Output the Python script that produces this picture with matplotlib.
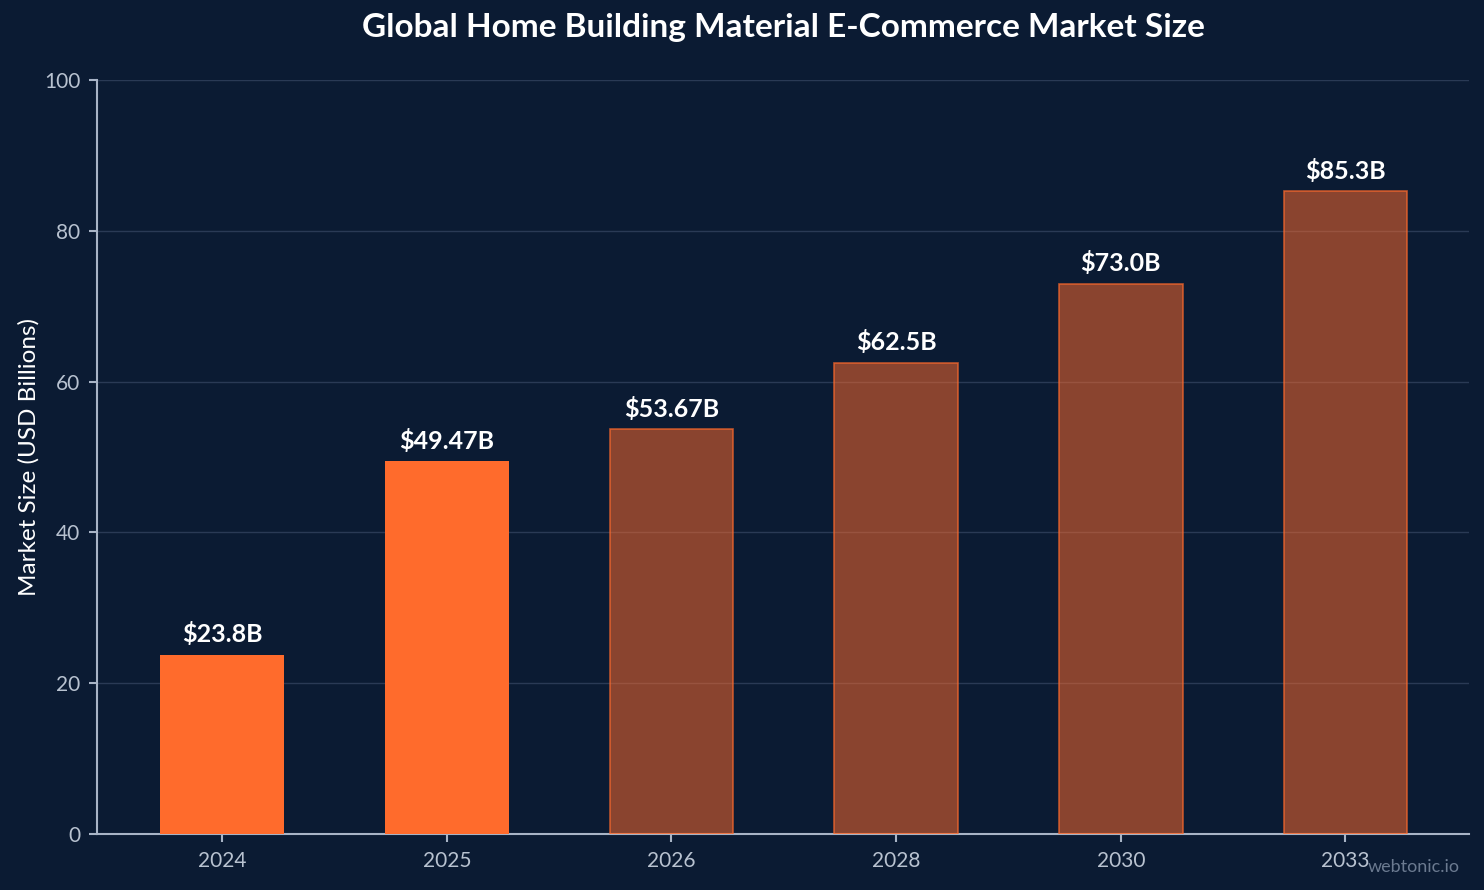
import matplotlib.pyplot as plt

plt.rcParams['font.family'] = ['Lato', 'DejaVu Sans']

years = ["2024", "2025", "2026", "2028", "2030", "2033"]
values = [23.8, 49.47, 53.67, 62.5, 73.0, 85.3]
labels = ["$23.8B", "$49.47B", "$53.67B", "$62.5B", "$73.0B", "$85.3B"]
projected = [False, False, True, True, True, True]

BG = "#0b1b33"
ORANGE = "#ff6b2c"
AXIS = "#a8b4c6"

fig = plt.figure(figsize=(14.84, 8.9), dpi=100, facecolor=BG)
ax = fig.add_axes([97 / 1484, 1 - 834 / 890, 1372 / 1484, 754 / 890])
ax.set_facecolor(BG)

x = list(range(len(years)))
for i, v in enumerate(values):
    if projected[i]:
        ax.bar(x[i], v, width=0.55, color=ORANGE, alpha=0.52, zorder=3)
        ax.bar(x[i], v, width=0.55, facecolor="none", edgecolor=ORANGE,
               linewidth=1.2, alpha=0.7, zorder=4)
    else:
        ax.bar(x[i], v, width=0.55, color=ORANGE, zorder=3)
    ax.text(x[i], v + 1.1, labels[i], ha="center", va="bottom",
            fontsize=18, fontweight="bold", color="white", zorder=5)

ax.set_ylim(0, 100)
ax.set_xlim(-0.557, 5.55)
ax.set_xticks(x)
ax.set_xticklabels(years)
ax.set_yticks([0, 20, 40, 60, 80, 100])
ax.grid(axis="y", color="#2a3a55", linewidth=1, zorder=0)
ax.set_axisbelow(True)

for s in ["top", "right"]:
    ax.spines[s].set_visible(False)
for s in ["left", "bottom"]:
    ax.spines[s].set_color(AXIS)
    ax.spines[s].set_linewidth(1.5)
ax.tick_params(colors=AXIS, labelsize=15, length=6, width=1.5, pad=6)
ax.tick_params(axis="x", labelcolor="#b8c2d0")
ax.tick_params(axis="y", labelcolor="#b8c2d0")

ax.set_ylabel("Market Size (USD Billions)", fontsize=17.5, color="white", labelpad=3)
fig.text(783 / 1484, 1 - 28 / 890, "Global Home Building Material E-Commerce Market Size",
         ha="center", va="center", fontsize=24, fontweight="bold", color="white")
fig.text(1460 / 1484, 1 - 867 / 890, "webtonic.io", ha="right", va="center",
         fontsize=13, color="#6b7a90")

fig.savefig("out.png", dpi=100, facecolor=BG)
